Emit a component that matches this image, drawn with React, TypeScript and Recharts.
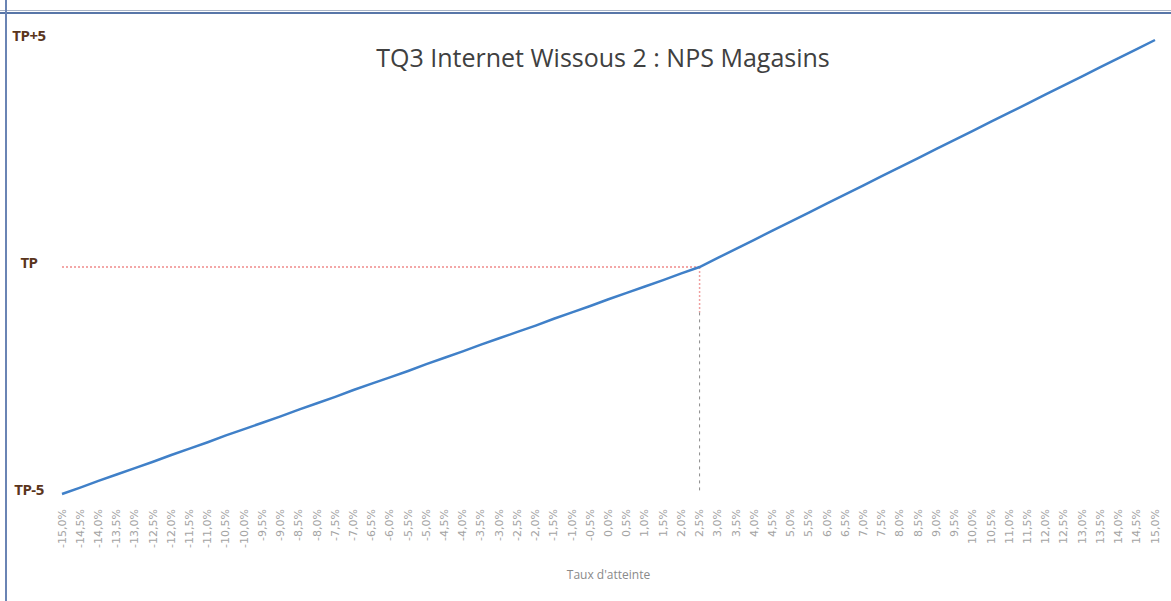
import React from "react"
import { LineChart, Line, XAxis, YAxis, ReferenceLine } from "recharts"

// x categories (taux d'atteinte)
const xLabels = [
    "-15,0%", "-14,5%", "-14,0%", "-13,5%", "-13,0%", "-12,5%", "-12,0%", "-11,5%", "-11,0%", "-10,5%",
    "-10,0%", "-9,5%", "-9,0%", "-8,5%", "-8,0%", "-7,5%", "-7,0%", "-6,5%", "-6,0%", "-5,5%",
    "-5,0%", "-4,5%", "-4,0%", "-3,5%", "-3,0%", "-2,5%", "-2,0%", "-1,5%", "-1,0%", "-0,5%",
    "0,0%", "0,5%", "1,0%", "1,5%", "2,0%", "2,5%", "3,0%", "3,5%", "4,0%", "4,5%",
    "5,0%", "5,5%", "6,0%", "6,5%", "7,0%", "7,5%", "8,0%", "8,5%", "9,0%", "9,5%",
    "10,0%", "10,5%", "11,0%", "11,5%", "12,0%", "12,5%", "13,0%", "13,5%", "14,0%", "14,5%",
    "15,0%",
]

// NPS points relative to TP
const npsValues = [
    -5.00, -4.86, -4.71, -4.57, -4.43, -4.29, -4.14, -4.00, -3.86, -3.71,
    -3.57, -3.43, -3.29, -3.14, -3.00, -2.86, -2.71, -2.57, -2.43, -2.29,
    -2.14, -2.00, -1.86, -1.71, -1.57, -1.43, -1.29, -1.14, -1.00, -0.86,
    -0.71, -0.57, -0.43, -0.29, -0.14, 0.00, 0.20, 0.40, 0.60, 0.80,
    1.00, 1.20, 1.40, 1.60, 1.80, 2.00, 2.20, 2.40, 2.60, 2.80,
    3.00, 3.20, 3.40, 3.60, 3.80, 4.00, 4.20, 4.40, 4.60, 4.80,
    5.00,
]

const yTicks = [-5, 0, 5]
const yTickLabels = ["TP-5", "TP", "TP+5"]

const targetX = "2,5%"

const chartData = xLabels.map((label, i) => ({ label, nps: npsValues[i] }))

const XTick = (props: any) => {
    const { x, y, payload } = props
    return (
        <text
            x={x}
            y={y}
            transform={`rotate(-90, ${x}, ${y})`}
            textAnchor="end"
            dominantBaseline="central"
            fill="#a3a3a3"
            fontSize={11}
            fontFamily="'DejaVu Sans', sans-serif"
        >
            {payload.value}
        </text>
    )
}

const YTick = (props: any) => {
    const { y, payload } = props
    const idx = yTicks.indexOf(payload.value)
    return (
        <text
            x={29}
            y={y - 5}
            textAnchor="middle"
            dominantBaseline="central"
            fill="#5a351c"
            fontSize={15}
            fontWeight="bold"
            fontFamily="'Open Sans', sans-serif"
            letterSpacing={-0.5}
        >
            {yTickLabels[idx]}
        </text>
    )
}

export default function App() {
    return (
        <div style={{ position: "absolute", left: 0, top: 0, width: 1171, height: 601, background: "#fff", overflow: "hidden" }}>
            {/* frame */}
            <div style={{ position: "absolute", left: 0, top: 10, width: 1171, height: 1, background: "#a9b4c6" }} />
            <div style={{ position: "absolute", left: 0, top: 12, width: 1171, height: 2, background: "#5876a8" }} />
            <div style={{ position: "absolute", left: 5, top: 0, width: 2, height: 601, background: "#6a84b4" }} />
            <div
                style={{
                    position: "absolute", left: 0, width: 1206, top: 40, textAlign: "center",
                    fontFamily: "'Open Sans', sans-serif", fontSize: 25, color: "#404040",
                }}
            >
                TQ3 Internet Wissous 2 : NPS Magasins
            </div>
            <LineChart width={1171} height={601} data={chartData} margin={{ top: 40, right: 16, left: 7, bottom: 0 }}>
                <XAxis
                    dataKey="label"
                    interval={0}
                    axisLine={false}
                    tickLine={false}
                    height={107}
                    tick={<XTick />}
                    tickMargin={9}
                    label={{ value: "Taux d'atteinte", position: "insideBottom", offset: 22, fill: "#8a8a8a", fontSize: 12, fontFamily: "'Open Sans', sans-serif" }}
                />
                <YAxis
                    type="number"
                    domain={[-5, 5]}
                    ticks={yTicks}
                    width={55}
                    axisLine={false}
                    tickLine={false}
                    tick={<YTick />}
                />
                <ReferenceLine
                    segment={[{ x: "-15,0%", y: 0 }, { x: targetX, y: 0 }]}
                    stroke="#f08a8a"
                    strokeWidth={1.5}
                    strokeDasharray="2 2"
                />
                <ReferenceLine
                    segment={[{ x: targetX, y: 0 }, { x: targetX, y: -1 }]}
                    stroke="#f0a0a0"
                    strokeWidth={1.5}
                    strokeDasharray="2 2"
                />
                <ReferenceLine
                    segment={[{ x: targetX, y: -1 }, { x: targetX, y: -5 }]}
                    stroke="#8a8a8a"
                    strokeWidth={1}
                    strokeDasharray="3 4"
                />
                <Line
                    type="linear"
                    dataKey="nps"
                    stroke="#4080c8"
                    strokeWidth={2.5}
                    dot={false}
                    isAnimationActive={false}
                />
            </LineChart>
        </div>
    )
}
